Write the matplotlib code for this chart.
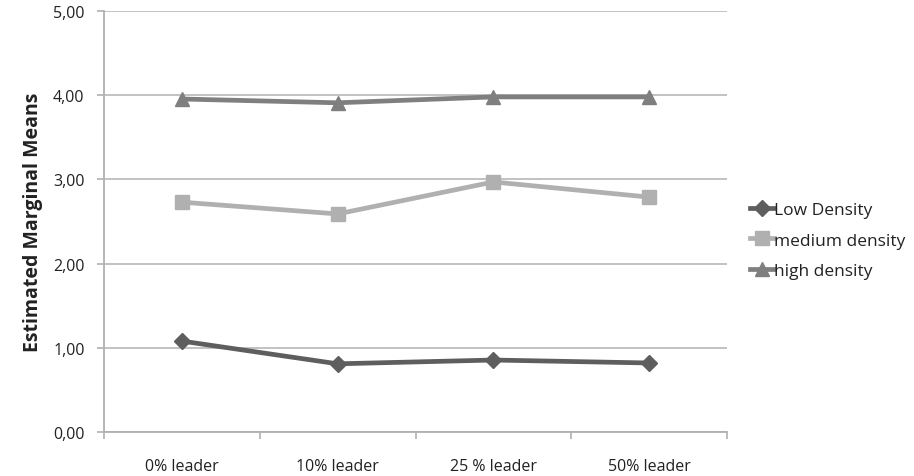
import matplotlib
matplotlib.use("Agg")
import matplotlib.pyplot as plt
from matplotlib.ticker import FuncFormatter, FixedLocator

plt.rcParams['font.family'] = ['Open Sans', 'DejaVu Sans']

categories = ["0% leader", "10% leader", "25 % leader", "50% leader"]
low_density = [1.08, 0.81, 0.855, 0.82]
medium_density = [2.73, 2.59, 2.97, 2.79]
high_density = [3.955, 3.91, 3.98, 3.98]
y_ticks = [0, 1, 2, 3, 4, 5]

fig = plt.figure(figsize=(9.14, 4.77), dpi=100)
ax = fig.add_axes([0.1138, 0.0922, 0.6816, 0.8826])

x = list(range(len(categories)))
ax.plot(x, low_density, color="#5e5e5e", lw=3.4, marker="D", ms=8,
        label="Low Density", zorder=3)
ax.plot(x, medium_density, color="#b0b0b0", lw=3.4, marker="s", ms=10,
        label="medium density", zorder=3)
ax.plot(x, high_density, color="#7f7f7f", lw=3.4, marker="^", ms=10.5,
        label="high density", zorder=3)

ax.set_xlim(-0.5, len(categories) - 0.5)
ax.set_ylim(0, 5)
ax.set_yticks(y_ticks)
ax.yaxis.set_major_formatter(FuncFormatter(lambda v, p: f"{v:.2f}".replace(".", ",")))
ax.set_xticks(x)
ax.set_xticklabels(categories)
ax.xaxis.set_minor_locator(FixedLocator([i - 0.5 for i in range(len(categories) + 1)]))
ax.tick_params(axis="x", which="major", length=0, pad=19, labelsize=11.5, colors="#222222")
ax.tick_params(axis="x", which="minor", length=5, width=1.2, color="#b0b0b0")
ax.tick_params(axis="y", length=5, width=1.2, color="#b0b0b0", pad=9,
               labelsize=11.5, labelcolor="#222222")

ax.grid(axis="y", color="#bdbdbd", lw=1.3, zorder=0)
ax.set_axisbelow(True)
for s in ["top", "right"]:
    ax.spines[s].set_visible(False)
for s in ["left", "bottom"]:
    ax.spines[s].set_color("#b0b0b0")
    ax.spines[s].set_linewidth(1.3)

ax.set_ylabel("Estimated Marginal Means", fontsize=14, fontweight="bold",
              color="#222222", labelpad=7)

ax.legend(loc="center left", bbox_to_anchor=(1.025, 0.455), frameon=False,
          fontsize=12.5, handlelength=1.4, handletextpad=0.0, labelspacing=0.82,
          borderaxespad=0, labelcolor="#222222")

fig.savefig("out.png", dpi=100)
